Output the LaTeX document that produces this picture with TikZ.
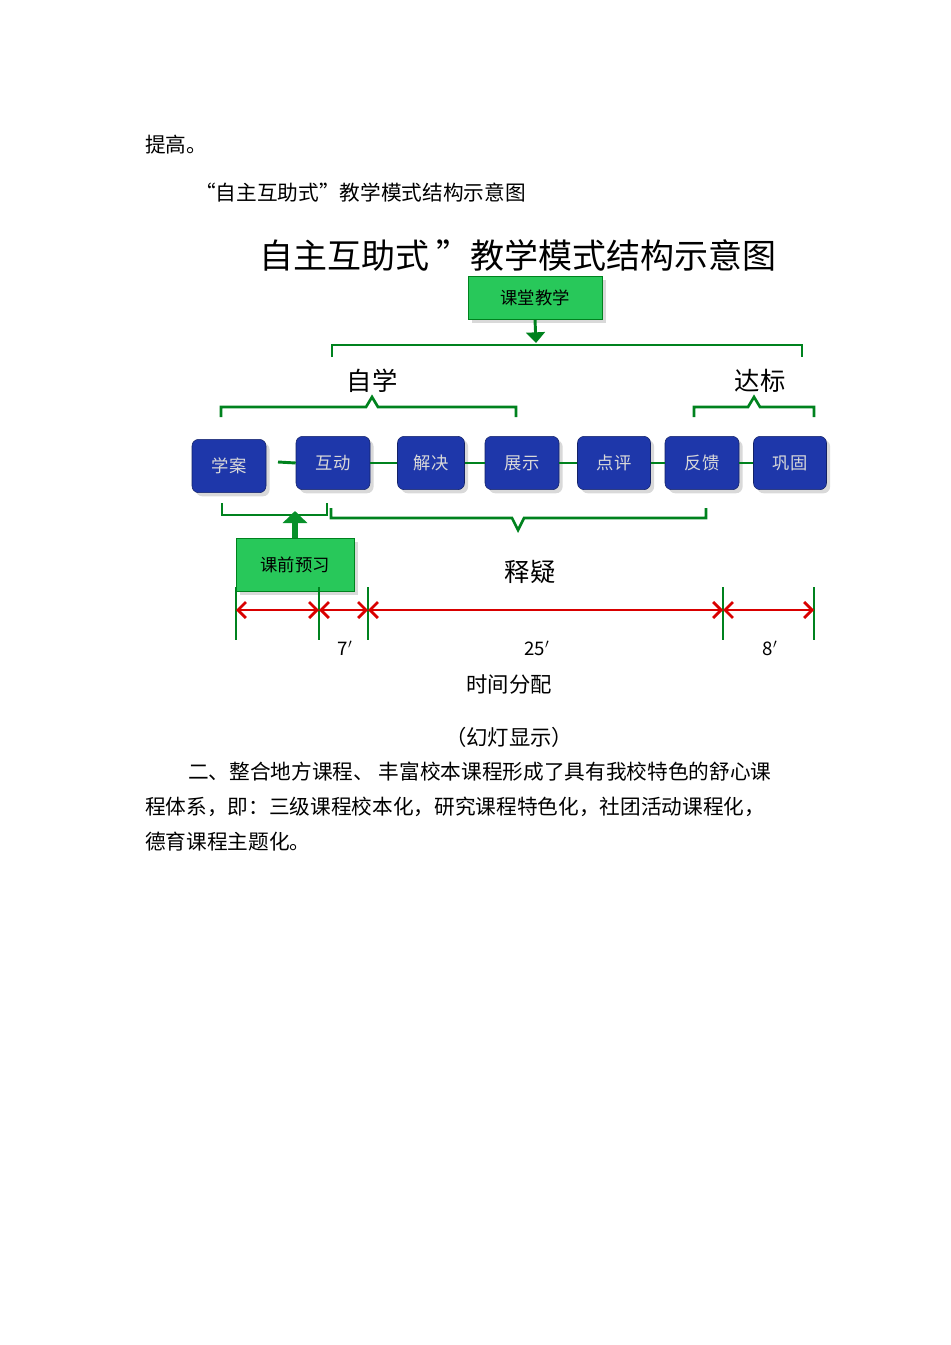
\documentclass[tikz,border=0pt]{standalone}
\usepackage{fontspec}
\setmainfont{Noto Sans CJK SC}
\newfontfamily\cjk{Noto Sans CJK SC}
\usetikzlibrary{arrows.meta,shadows}
\definecolor{bbox}{RGB}{30,55,170}
\definecolor{gbox}{RGB}{40,200,90}
\definecolor{gline}{RGB}{0,130,30}
\tikzset{
 bluebox/.style={draw=bbox!60!black,fill=bbox,rounded corners=5pt,text=white!85!black,minimum width=#1*0.75pt,minimum height=40pt,inner sep=0pt,font=\fontsize{13}{13}\selectfont,drop shadow={opacity=0.3}},
 greenbox/.style={draw=gline,fill=gbox,minimum width=#1*0.75pt,inner sep=0pt,font=\fontsize{13}{13}\selectfont,drop shadow={opacity=0.3}},
 gl/.style={gline,line width=2.2pt},
 brk/.style={gline,line width=2pt},
 red/.style={red!85!black,line width=2pt,{Straight Barb[length=6pt]}-{Straight Barb[length=6pt]}},
 txt/.style={font=\fontsize{15.5}{15.5}\selectfont,anchor=west,inner sep=0pt},
}
\begin{document}
\begin{tikzpicture}[x=0.75pt,y=-0.75pt]
\useasboundingbox (0,0) rectangle (950,1345);
\node[txt] (t1) at (145,145) {提高。};
\node[txt] (t2) at (195,193) {“自主互助式”教学模式结构示意图};
\node[font=\fontsize{25.5}{25.5}\selectfont] (title) at (518,255) {自主互助式 ”教学模式结构示意图};
\node[greenbox=134,minimum height=32pt] (kt) at (535,298) {课堂教学};
\draw[gl,-{Triangle[length=8pt,width=14pt]}] (kt.south) -- (536,343);
\draw[brk] (332,357) -- (332,345) -- (802,345) -- (802,357);
\node[font=\fontsize{19}{19}\selectfont] (zx) at (372,381) {自学};
\node[font=\fontsize{19}{19}\selectfont] (db) at (760,381) {达标};
\draw[brk] (221,417) -- (221,407) -- (366,407) -- (372,397) -- (378,407) -- (516,407) -- (516,417);
\draw[brk] (694,417) -- (694,407) -- (748,407) -- (754,397) -- (760,407) -- (814,407) -- (814,417);
\node[bluebox=74] (b1) at (229,466) {学案};
\node[bluebox=74] (b2) at (333,463) {互动};
\node[bluebox=67] (b3) at (431,463) {解决};
\node[bluebox=74] (b4) at (522,463) {展示};
\node[bluebox=73] (b5) at (614,463) {点评};
\node[bluebox=74] (b6) at (702,463) {反馈};
\node[bluebox=73] (b7) at (790,463) {巩固};
\draw[gl] (278,462) -- (b2.west);
\foreach \a/\b in {b2/b3,b3/b4,b4/b5,b5/b6,b6/b7}{\draw[gl] (\a.east) -- (\b.west);}
\draw[brk] (222,503) -- (222,515) -- (327,515) -- (327,503);
\draw[brk] (331,508) -- (331,518) -- (512,518) -- (518,530) -- (524,518) -- (706,518) -- (706,508);
\node[greenbox=118,minimum height=40pt] (kq) at (295,565) {课前预习};
\draw[gline!80!gbox,line width=5pt,-{Triangle[length=9pt,width=18pt]}] (kq.north) -- (295,511);
\node[font=\fontsize{19}{19}\selectfont] (sy) at (530,572) {释疑};
\foreach \x/\n in {236/v1,319/v2,368/v3,723/v4,814/v5}{\coordinate (\n) at (\x,610); \draw[gl] (\x,587) -- (\x,640);}
\draw[red] (v1) -- (v2); \draw[red] (v2) -- (v3); \draw[red] (v3) -- (v4); \draw[red] (v4) -- (v5);
\node[font=\fontsize{14}{14}\selectfont] (m1) at (345,648) {7$'$};
\node[font=\fontsize{14}{14}\selectfont] (m2) at (537,648) {25$'$};
\node[font=\fontsize{14}{14}\selectfont] (m3) at (770,648) {8$'$};
\node[font=\fontsize{16}{16}\selectfont] (sj) at (509,684) {时间分配};
\node[font=\fontsize{16}{16}\selectfont] (hd) at (509,737) {（幻灯显示）};
\node[txt] (p1) at (188,772) {二、整合地方课程、 丰富校本课程形成了具有我校特色的舒心课};
\node[txt] (p2) at (145,807) {程体系，即：三级课程校本化，研究课程特色化，社团活动课程化，};
\node[txt] (p3) at (145,842) {德育课程主题化。};
\end{tikzpicture}
\end{document}
